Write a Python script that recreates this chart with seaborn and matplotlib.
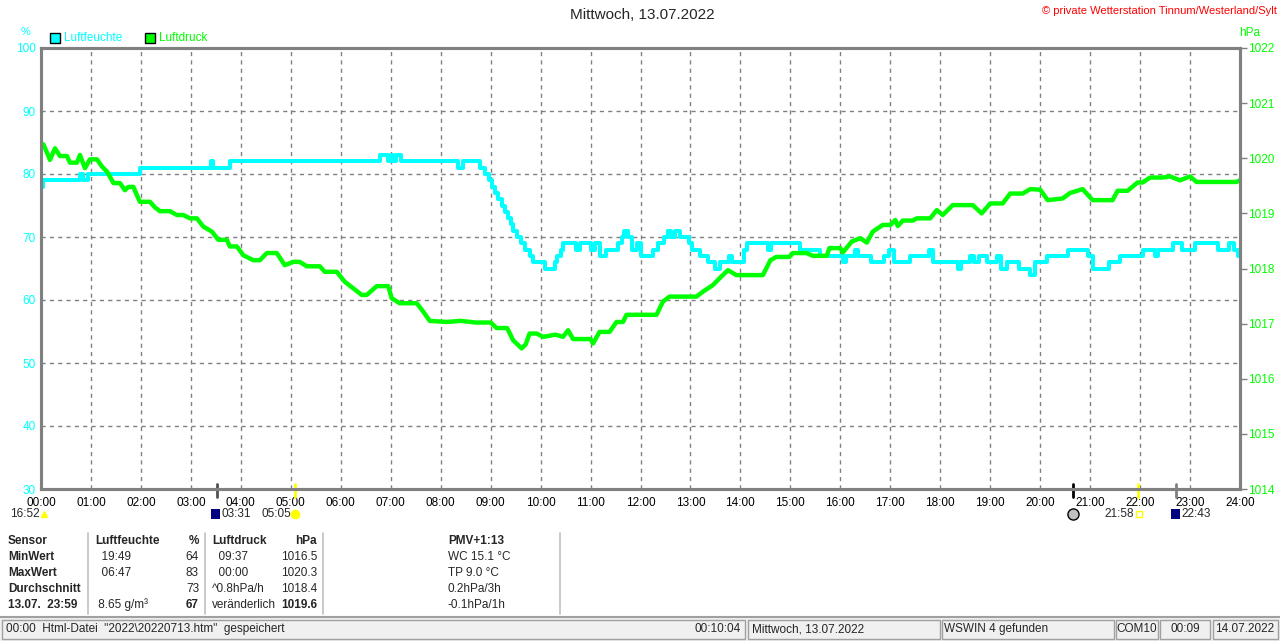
import matplotlib
matplotlib.use('Agg')
import matplotlib.pyplot as plt
import matplotlib.transforms as mtransforms
from matplotlib.patches import Rectangle
from matplotlib.lines import Line2D
import seaborn as sns

# --- Daten: Luftfeuchte (%) als Stufen, Zeit in Stunden ---
feuchte_zeit = [0.00, 0.05, 0.78, 0.85, 0.95, 1.98, 3.40, 3.45, 3.78, 6.79, 6.95, 7.00, 7.05, 7.10, 7.20,
                8.35, 8.45, 8.79, 8.88, 8.97, 9.03, 9.09, 9.15, 9.22, 9.28, 9.35, 9.40, 9.45, 9.53, 9.60,
                9.68, 9.78, 9.85, 10.08, 10.28, 10.33, 10.40, 10.45, 10.70, 10.78, 11.00, 11.08, 11.18,
                11.30, 11.55, 11.62, 11.66, 11.75, 11.82, 11.92, 12.02, 12.25, 12.35, 12.47, 12.55, 12.62,
                12.70, 12.80, 12.97, 13.03, 13.20, 13.35, 13.50, 13.60, 13.78, 13.83, 14.08, 14.14, 14.55,
                14.62, 15.20, 15.60, 16.05, 16.12, 16.30, 16.35, 16.62, 16.88, 16.97, 17.08, 17.40, 17.78,
                17.85, 18.35, 18.42, 18.60, 18.68, 18.78, 18.93, 19.13, 19.22, 19.33, 19.58, 19.80, 19.90,
                20.13, 20.55, 20.95, 21.05, 21.38, 21.60, 22.05, 22.30, 22.35, 22.65, 22.83, 23.10, 23.55,
                23.77, 23.87, 23.95, 24.00]
feuchte_wert = [78, 79, 80, 79, 80, 81, 82, 81, 82, 83, 82, 83, 82, 83, 82,
                81, 82, 81, 80, 79, 78, 77, 76, 75, 74, 73, 72, 71, 70, 69,
                68, 67, 66, 65, 66, 67, 68, 69, 68, 69, 68, 69, 67,
                68, 69, 70, 71, 70, 68, 69, 67, 68, 69, 70, 71, 70,
                71, 70, 69, 68, 67, 66, 65, 66, 67, 66, 68, 69, 68,
                69, 68, 67, 66, 67, 68, 67, 66, 67, 68, 66, 67, 68,
                66, 65, 66, 67, 66, 67, 66, 67, 65, 66, 65, 64, 66,
                67, 68, 67, 65, 66, 67, 68, 67, 68, 69, 68, 69, 68,
                69, 68, 67, 67]

# --- Daten: Luftdruck (hPa) ---
druck_zeit = [0.00, 0.05, 0.18, 0.28, 0.38, 0.52, 0.58, 0.72, 0.78, 0.88, 0.98, 1.12, 1.22, 1.32, 1.45,
              1.58, 1.68, 1.75, 1.85, 1.92, 1.98, 2.18, 2.28, 2.38, 2.58, 2.72, 2.85, 2.98, 3.12, 3.25,
              3.42, 3.55, 3.72, 3.78, 3.92, 4.05, 4.25, 4.38, 4.52, 4.72, 4.88, 5.05, 5.18, 5.32, 5.58,
              5.68, 5.92, 6.08, 6.25, 6.42, 6.52, 6.62, 6.72, 6.95, 7.02, 7.18, 7.52, 7.65, 7.78, 8.12,
              8.40, 8.70, 9.00, 9.12, 9.33, 9.45, 9.62, 9.70, 9.78, 9.92, 10.05, 10.30, 10.45, 10.55,
              10.65, 11.00, 11.05, 11.18, 11.38, 11.52, 11.65, 11.72, 12.12, 12.32, 12.45, 12.58, 13.12,
              13.25, 13.45, 13.58, 13.75, 13.92, 14.45, 14.60, 14.72, 14.98, 15.05, 15.32, 15.45, 15.73,
              15.78, 16.00, 16.05, 16.23, 16.40, 16.53, 16.65, 16.85, 17.00, 17.10, 17.15, 17.25, 17.45,
              17.53, 17.80, 17.93, 18.05, 18.25, 18.65, 18.83, 19.00, 19.25, 19.40, 19.65, 19.80, 20.00,
              20.15, 20.45, 20.60, 20.85, 21.05, 21.45, 21.55, 21.75, 21.95, 22.05, 22.20, 22.45, 22.60,
              22.80, 23.00, 23.13, 23.93, 24.00]
druck_wert = [1020.27, 1020.25, 1019.97, 1020.18, 1020.04, 1020.04, 1019.92, 1019.92, 1020.06, 1019.82,
              1019.98, 1019.98, 1019.85, 1019.76, 1019.55, 1019.55, 1019.42, 1019.48, 1019.48, 1019.33,
              1019.21, 1019.21, 1019.11, 1019.04, 1019.04, 1018.97, 1018.97, 1018.91, 1018.91, 1018.76,
              1018.67, 1018.52, 1018.52, 1018.40, 1018.40, 1018.24, 1018.15, 1018.15, 1018.28, 1018.28,
              1018.06, 1018.12, 1018.12, 1018.04, 1018.04, 1017.94, 1017.94, 1017.76, 1017.64, 1017.52,
              1017.52, 1017.60, 1017.68, 1017.68, 1017.46, 1017.37, 1017.37, 1017.22, 1017.05, 1017.03,
              1017.05, 1017.02, 1017.02, 1016.92, 1016.92, 1016.70, 1016.55, 1016.62, 1016.82, 1016.82,
              1016.76, 1016.80, 1016.76, 1016.88, 1016.72, 1016.72, 1016.64, 1016.85, 1016.85, 1017.03,
              1017.03, 1017.16, 1017.16, 1017.16, 1017.40, 1017.49, 1017.49, 1017.58, 1017.70, 1017.82,
              1017.97, 1017.88, 1017.88, 1018.15, 1018.21, 1018.21, 1018.28, 1018.28, 1018.23, 1018.23,
              1018.37, 1018.37, 1018.29, 1018.49, 1018.55, 1018.47, 1018.67, 1018.79, 1018.79, 1018.88,
              1018.77, 1018.87, 1018.87, 1018.91, 1018.91, 1019.06, 1018.97, 1019.15, 1019.15, 1019.00,
              1019.18, 1019.18, 1019.36, 1019.36, 1019.44, 1019.43, 1019.24, 1019.27, 1019.37, 1019.44,
              1019.24, 1019.24, 1019.41, 1019.41, 1019.56, 1019.56, 1019.65, 1019.65, 1019.67, 1019.60,
              1019.67, 1019.57, 1019.57, 1019.60]

stunden = list(range(25))
stunden_labels = [f'{h:02d}:00' for h in stunden]
feuchte_ticks = [30, 40, 50, 60, 70, 80, 90, 100]
druck_ticks = [1014, 1015, 1016, 1017, 1018, 1019, 1020, 1021, 1022]

# Ereignisse unter der Zeitachse (Zeit in Stunden)
ereignis_zeit = [3.517, 5.083, 20.65, 21.967, 22.717]
ereignis_farbe = ['#505050', '#FFFF00', '#000000', '#FFFF00', '#808080']

# Tabelle unten
tabelle = [
    ['Sensor', 'Luftfeuchte', '%', 'Luftdruck', 'hPa'],
    ['MinWert', '  19:49', '64', '  09:37', '1016.5'],
    ['MaxWert', '  06:47', '83', '  00:00', '1020.3'],
    ['Durchschnitt', '', '73', '^0.8hPa/h', '1018.4'],
    ['13.07.  23:59', ' 8.65 g/m³', '67', 'veränderlich', '1019.6'],
]
pmv_zeilen = ['PMV+1:13', 'WC 15.1 °C', 'TP 9.0 °C', '0.2hPa/3h', '-0.1hPa/1h']

CYAN = '#00FFFF'
GRUEN = '#00FF00'
GRAU = '#808080'

sns.set_style('white')
plt.rcParams['font.family'] = ['Liberation Sans', 'DejaVu Sans']
plt.rcParams['font.size'] = 8.5

W, H = 1280, 641
fig = plt.figure(figsize=(12.8, 6.41), dpi=100)


def fx(x):
    return x / W


def fy(y):
    return 1 - y / H


ax = fig.add_axes([fx(41), fy(489), fx(1240) - fx(41), fy(48) - fy(489)])
ax2 = ax.twinx()

sns.lineplot(x=feuchte_zeit, y=feuchte_wert, ax=ax, color=CYAN, linewidth=2.9,
             drawstyle='steps-post', estimator=None)
sns.lineplot(x=druck_zeit, y=druck_wert, ax=ax2, color=GRUEN, linewidth=3.2, estimator=None)

ax.set_xlim(0, 24)
ax.set_ylim(30, 100)
ax2.set_ylim(1014, 1022)
ax.set_xticks(stunden)
ax.set_xticklabels(stunden_labels)
ax.set_yticks(feuchte_ticks)
ax2.set_yticks(druck_ticks)
ax.grid(True, color=GRAU, linestyle=(0, (3, 3)), linewidth=1)
ax2.grid(False)
ax.tick_params(axis='x', length=0, pad=6, labelcolor='black', labelsize=8.5)
ax.tick_params(axis='y', length=0, pad=4, labelcolor=CYAN, labelsize=8.5)
ax2.tick_params(axis='y', length=5, width=1, color=GRAU, pad=1, labelcolor=GRUEN, labelsize=8.5)
for a in (ax, ax2):
    for s in a.spines.values():
        s.set_color(GRAU)
        s.set_linewidth(2.2)
ax.set_xlabel('')
ax.set_ylabel('')
ax2.set_ylabel('')

# Ereignismarken auf der Zeitachse
trans = mtransforms.blended_transform_factory(ax.transData, ax.transAxes)
for t, c in zip(ereignis_zeit, ereignis_farbe):
    ax.plot([t, t], [0.012, -0.018], color=c, lw=2, transform=trans, clip_on=False, zorder=5)

# Titel und Kopfzeile
fig.text(fx(642), fy(15), 'Mittwoch, 13.07.2022', ha='center', va='center', fontsize=11)
fig.text(fx(1277), fy(11), '© private Wetterstation Tinnum/Westerland/Sylt', ha='right',
         va='center', color='#FF0000', fontsize=8)
fig.text(fx(26), fy(32), '%', ha='center', va='center', color=CYAN, fontsize=8)
fig.text(fx(1250), fy(33), 'hPa', ha='center', va='center', color=GRUEN, fontsize=8.5)
for x0, farbe, name in [(50, CYAN, 'Luftfeuchte'), (145, GRUEN, 'Luftdruck')]:
    fig.add_artist(Rectangle((fx(x0), fy(43)), 10 / W, 10 / H, facecolor=farbe,
                             edgecolor='black', lw=1, transform=fig.transFigure))
    fig.text(fx(x0 + 14), fy(38), name, ha='left', va='center', color=farbe, fontsize=8.5)

# Beschriftungen der Ereignisse unter der Achse
yb = fy(514)
fig.text(fx(10), yb, '16:52', ha='left', va='center')
fig.add_artist(Line2D([fx(44)], [yb], marker='^', color='#FFFF00', markersize=5,
                      transform=fig.transFigure))
fig.add_artist(Rectangle((fx(211), fy(519)), 9 / W, 10 / H, facecolor='#000080',
                         edgecolor='none', transform=fig.transFigure))
fig.text(fx(221), yb, '03:31', ha='left', va='center')
fig.text(fx(262), yb, '05:05', ha='left', va='center')
fig.add_artist(Line2D([fx(295)], [yb], marker='o', color='#FFFF00', markersize=6,
                      transform=fig.transFigure))
fig.add_artist(Line2D([fx(1073)], [yb], marker='o', markerfacecolor='#C0C0C0',
                      markeredgecolor='black', markersize=8, transform=fig.transFigure))
fig.text(fx(1104), yb, '21:58', ha='left', va='center')
fig.add_artist(Line2D([fx(1139)], [yb], marker='s', markerfacecolor='none',
                      markeredgecolor='#FFFF00', markersize=4, transform=fig.transFigure))
fig.add_artist(Rectangle((fx(1171), fy(519)), 9 / W, 10 / H, facecolor='#000080',
                         edgecolor='none', transform=fig.transFigure))
fig.text(fx(1181), yb, '22:43', ha='left', va='center')

# Tabelle
zeilen_y = [541, 557, 573, 589, 605]
for i, (zeile, yy) in enumerate(zip(tabelle, zeilen_y)):
    kopf = i == 0
    fig.text(fx(8), fy(yy), zeile[0], ha='left', va='center', fontweight='bold')
    fig.text(fx(95), fy(yy), zeile[1], ha='left', va='center', fontweight='bold' if kopf else 'normal')
    fig.text(fx(199), fy(yy), zeile[2], ha='right', va='center',
             fontweight='bold' if kopf or i == 4 else 'normal')
    fig.text(fx(212), fy(yy), zeile[3], ha='left', va='center', fontweight='bold' if kopf else 'normal')
    fig.text(fx(317), fy(yy), zeile[4], ha='right', va='center',
             fontweight='bold' if kopf or i == 4 else 'normal')
    fig.text(fx(448), fy(yy), pmv_zeilen[i], ha='left', va='center',
             fontweight='bold' if kopf else 'normal')
for xs in [88, 205, 323, 560]:
    fig.add_artist(Line2D([fx(xs), fx(xs)], [fy(533), fy(614)], color='#C0C0C0', lw=1.2,
                          transform=fig.transFigure))

# Statusleiste
fig.add_artist(Rectangle((0, 0), 1, fy(617), facecolor='#F0F0F0', edgecolor='none',
                         transform=fig.transFigure, zorder=0))
fig.add_artist(Line2D([0, 1], [fy(617), fy(617)], color='#A0A0A0', lw=1.5, transform=fig.transFigure))
felder = [(2, 745), (748, 940), (942, 1114), (1116, 1158), (1160, 1210), (1213, 1278)]
for x0, x1 in felder:
    fig.add_artist(Rectangle((fx(x0), fy(639)), (x1 - x0) / W, 19 / H, facecolor='none',
                             edgecolor='#A0A0A0', lw=1, transform=fig.transFigure))
ys = fy(629)
fig.text(fx(6), ys, '00:00  Html-Datei  "2022\\20220713.htm"  gespeichert', ha='left', va='center')
fig.text(fx(741), ys, '00:10:04', ha='right', va='center')
fig.text(fx(752), ys, 'Mittwoch, 13.07.2022', ha='left', va='center')
fig.text(fx(944), ys, 'WSWIN 4 gefunden', ha='left', va='center')
fig.text(fx(1137), ys, 'COM10', ha='center', va='center')
fig.text(fx(1185), ys, '00:09', ha='center', va='center')
fig.text(fx(1245), ys, '14.07.2022', ha='center', va='center')

fig.savefig('out.png', dpi=100)
